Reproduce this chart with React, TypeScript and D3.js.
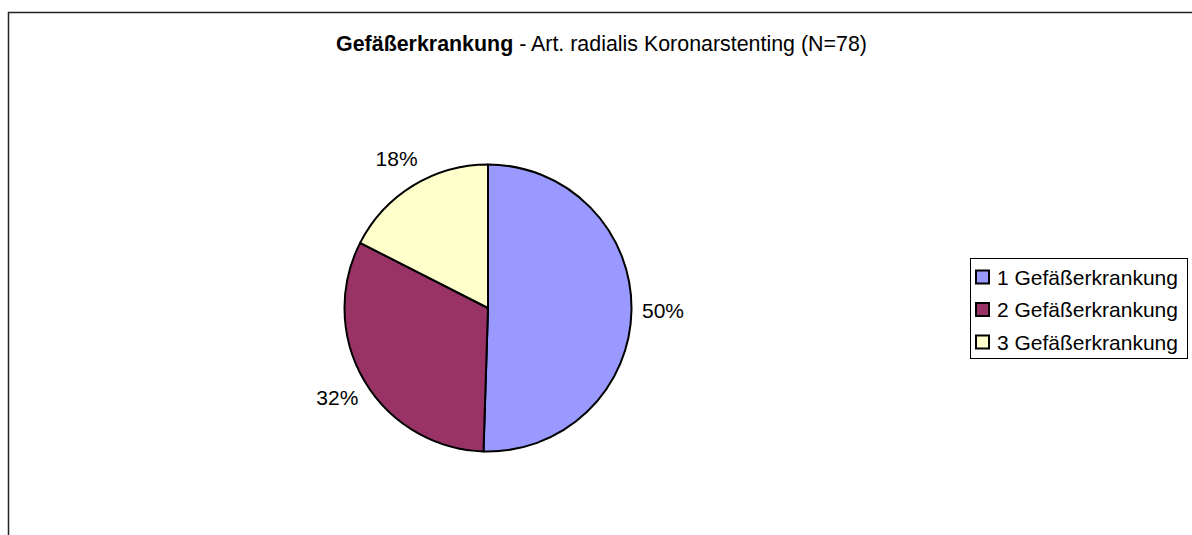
import React from "react";
import * as d3 from "d3";

const categories = ["1 Gefäßerkrankung", "2 Gefäßerkrankung", "3 Gefäßerkrankung"];
const values = [50.5, 32.0, 17.5];
const labels = ["50%", "32%", "18%"];
const colors = ["#9999FF", "#993366", "#FFFFCC"];
const titleBold = "Gefäßerkrankung";
const titleRest = " - Art. radialis Koronarstenting (N=78)";

export default function App() {
  const W = 1192;
  const H = 535;
  const cx = 488;
  const cy = 308;
  const r = 143.5;
  const font = "'Liberation Sans', Arial, sans-serif";

  const pie = d3.pie<number>().sort(null).value((d) => d)(values);
  const arc = d3.arc<d3.PieArcDatum<number>>().innerRadius(0).outerRadius(r);
  const labelArc = d3.arc<d3.PieArcDatum<number>>().innerRadius(175).outerRadius(175);

  const legendY = d3.scalePoint<string>().domain(categories).range([277, 342]);

  return (
    <svg
      width={W}
      height={H}
      style={{ position: "absolute", left: 0, top: 0, display: "block", background: "#fff" }}
      fontFamily={font}
    >
      <rect x={8.5} y={12.5} width={1300} height={700} fill="#fff" stroke="#222" strokeWidth={1.5} />
      <text x={601.5} y={51} textAnchor="middle" fontSize={21.4} fill="#000">
        <tspan fontWeight="bold">{titleBold}</tspan>
        <tspan>{titleRest}</tspan>
      </text>
      <g transform={`translate(${cx},${cy})`}>
        {pie.map((p, i) => (
          <path key={i} d={arc(p) || ""} fill={colors[i]} stroke="#000" strokeWidth={2} strokeLinejoin="round" />
        ))}
        {pie.map((p, i) => {
          const [x, y] = labelArc.centroid(p);
          return (
            <text key={"l" + i} x={x} y={y} textAnchor="middle" dominantBaseline="central" fontSize={21} fill="#000">
              {labels[i]}
            </text>
          );
        })}
      </g>
      <rect x={970.5} y={258.5} width={217} height={100} fill="#fff" stroke="#000" strokeWidth={1} />
      {categories.map((c, i) => {
        const y = legendY(c) as number;
        return (
          <g key={c}>
            <rect x={976} y={y - 6.5} width={13} height={13} fill={colors[i]} stroke="#000" strokeWidth={2} />
            <text x={997} y={y} dominantBaseline="central" fontSize={21} fill="#000">
              {c}
            </text>
          </g>
        );
      })}
    </svg>
  );
}
